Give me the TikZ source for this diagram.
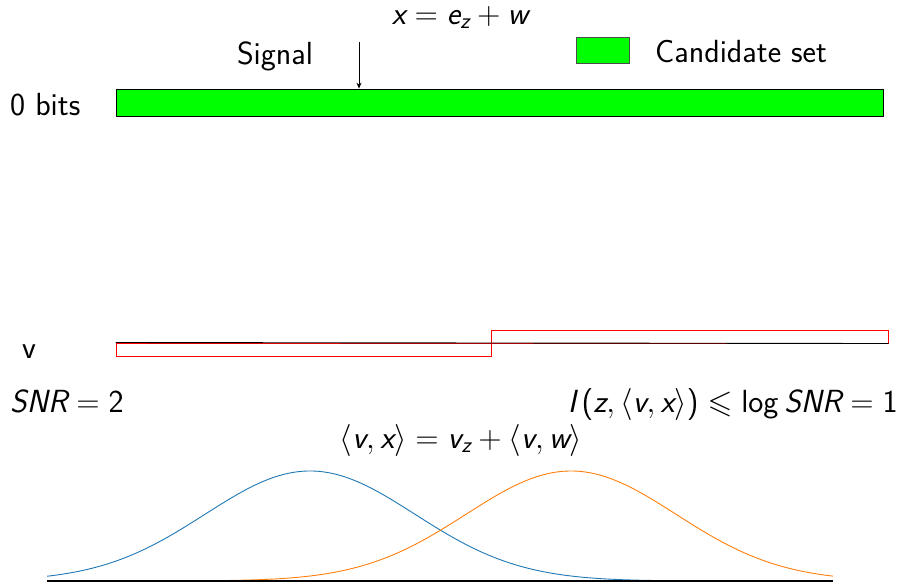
\RequirePackage{fix-cm}
\documentclass[tikz,border=0pt]{standalone}
\usepackage{amssymb}
\usetikzlibrary{arrows.meta}
\DeclareMathAlphabet{\mathsl}{TU}{lmss}{m}{sl}
\SetSymbolFont{operators}{normal}{TU}{lmss}{m}{n}
\newcommand\sv[1]{\mathsl{#1}}
\newcommand\sflog{\mathop{\mathsf{log}}\nolimits}
\definecolor{candgreen}{RGB}{0,255,0}
\definecolor{mplblue}{HTML}{1F77B4}
\definecolor{mplorange}{HTML}{FF7F0E}
\tikzset{
  lbl/.style={font=\fontsize{32}{38}\selectfont\sffamily, inner sep=0pt},
  greenbox/.style={draw=black, fill=candgreen, line width=0.8pt, inner sep=0pt},
  redbox/.style={draw=red, line width=1pt, inner sep=0pt, minimum height=13pt},
  curve/.style={line width=0.9pt},
}
\begin{document}
\begin{tikzpicture}[x=1pt,y=-1pt]
\useasboundingbox (0,0) rectangle (904,582);
% top part
\node[lbl, anchor=base] (xeq) at (460,24) {$\sv{x} = \sv{e}_{\sv{z}} + \sv{w}$};
\node[lbl, anchor=base] (signal) at (275,64) {Signal};
\node[lbl, anchor=base west] (bits) at (10,115) {0 bits};
\node[greenbox, minimum width=767pt, minimum height=27pt] (bar) at (499.5,102.5) {};
\node[greenbox, draw=black!70, minimum width=53pt, minimum height=26pt] (legend) at (602.5,50) {};
\node[lbl, anchor=base west] (cand) at (655,62) {Candidate set};
\coordinate (sigtop) at (359,42);
\draw[line width=0.8pt, -{Stealth[length=6pt,width=5pt]}] (sigtop) -- (sigtop |- bar.north);
% v row
\node[lbl, anchor=base] (v) at (29,358) {v};
\node[redbox, minimum width=375pt] (vneg) at (303.5,349.5) {};
\node[redbox, minimum width=397pt] (vpos) at (689.5,336.5) {};
\draw[line width=0.9pt] (vneg.north west) -- (vpos.south east);
% SNR texts
\node[lbl, anchor=base west] (snr) at (10,412) {$\sv{SNR} = 2$};
\node[lbl, anchor=base east] (info) at (898,412) {$\sv{I}\mkern3mu(\sv{z},\langle \sv{v},\sv{x}\rangle) \leqslant \sflog \sv{SNR} = 1$};
\node[lbl, anchor=base] (inner) at (461,448) {$\langle \sv{v}, \sv{x}\rangle = \sv{v}_{\sv{z}} + \langle \sv{v}, \sv{w}\rangle$};
% gaussians
\coordinate (axL) at (47,581);
\coordinate (axR) at (833,581);
\draw[curve, mplblue] plot[domain=47:833, samples=240, smooth] (\x, {581-110*exp(-(((\x-310)/100)^2)/2.205)});
\draw[curve, mplorange] plot[domain=47:833, samples=240, smooth] (\x, {581-110*exp(-(((\x-571)/100)^2)/2.205)});
\draw[line width=1.2pt] (axL) -- (axR);
\end{tikzpicture}
\end{document}
